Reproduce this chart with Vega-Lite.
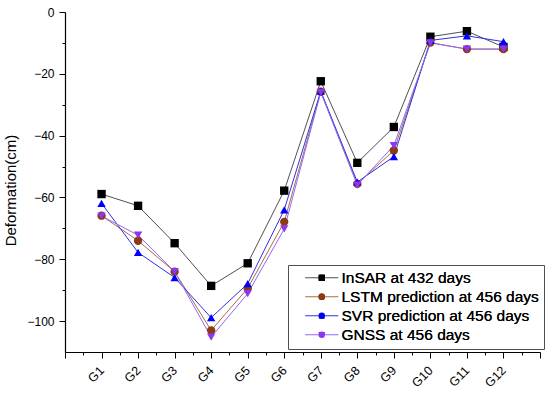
{
  "$schema": "https://vega.github.io/schema/vega-lite/v6.json",
  "width": 475,
  "height": 340,
  "autosize": "none",
  "padding": {"left": 65, "top": 12, "right": 10, "bottom": 44},
  "background": "white",
  "config": {
    "view": {"stroke": null},
    "font": "Liberation Sans",
    "axis": {"grid": false, "domainColor": "#000000", "tickColor": "#000000", "labelColor": "#000000", "titleColor": "#000000", "labelFont": "Liberation Sans", "titleFont": "Liberation Sans", "titleFontWeight": "normal"}
  },
  "data": {
    "values": [
      {"series": "InSAR at 432 days", "g": 1, "v": -58.9},
      {"series": "InSAR at 432 days", "g": 2, "v": -62.7},
      {"series": "InSAR at 432 days", "g": 3, "v": -74.8},
      {"series": "InSAR at 432 days", "g": 4, "v": -88.6},
      {"series": "InSAR at 432 days", "g": 5, "v": -81.3},
      {"series": "InSAR at 432 days", "g": 6, "v": -57.8},
      {"series": "InSAR at 432 days", "g": 7, "v": -22.4},
      {"series": "InSAR at 432 days", "g": 8, "v": -48.8},
      {"series": "InSAR at 432 days", "g": 9, "v": -37.2},
      {"series": "InSAR at 432 days", "g": 10, "v": -8.0},
      {"series": "InSAR at 432 days", "g": 11, "v": -6.2},
      {"series": "InSAR at 432 days", "g": 12, "v": -11.3},
      {"series": "LSTM prediction at 456 days", "g": 1, "v": -65.9},
      {"series": "LSTM prediction at 456 days", "g": 2, "v": -74.0},
      {"series": "LSTM prediction at 456 days", "g": 3, "v": -84.0},
      {"series": "LSTM prediction at 456 days", "g": 4, "v": -103.0},
      {"series": "LSTM prediction at 456 days", "g": 5, "v": -89.4},
      {"series": "LSTM prediction at 456 days", "g": 6, "v": -67.9},
      {"series": "LSTM prediction at 456 days", "g": 7, "v": -25.8},
      {"series": "LSTM prediction at 456 days", "g": 8, "v": -55.6},
      {"series": "LSTM prediction at 456 days", "g": 9, "v": -44.8},
      {"series": "LSTM prediction at 456 days", "g": 10, "v": -9.9},
      {"series": "LSTM prediction at 456 days", "g": 11, "v": -12.0},
      {"series": "LSTM prediction at 456 days", "g": 12, "v": -12.0},
      {"series": "SVR prediction at 456 days", "g": 1, "v": -61.9},
      {"series": "SVR prediction at 456 days", "g": 2, "v": -77.8},
      {"series": "SVR prediction at 456 days", "g": 3, "v": -85.9},
      {"series": "SVR prediction at 456 days", "g": 4, "v": -98.9},
      {"series": "SVR prediction at 456 days", "g": 5, "v": -87.9},
      {"series": "SVR prediction at 456 days", "g": 6, "v": -64.0},
      {"series": "SVR prediction at 456 days", "g": 7, "v": -25.6},
      {"series": "SVR prediction at 456 days", "g": 8, "v": -55.0},
      {"series": "SVR prediction at 456 days", "g": 9, "v": -46.8},
      {"series": "SVR prediction at 456 days", "g": 10, "v": -9.2},
      {"series": "SVR prediction at 456 days", "g": 11, "v": -7.7},
      {"series": "SVR prediction at 456 days", "g": 12, "v": -9.6},
      {"series": "GNSS at 456 days", "g": 1, "v": -66.0},
      {"series": "GNSS at 456 days", "g": 2, "v": -72.2},
      {"series": "GNSS at 456 days", "g": 3, "v": -84.0},
      {"series": "GNSS at 456 days", "g": 4, "v": -105.2},
      {"series": "GNSS at 456 days", "g": 5, "v": -91.1},
      {"series": "GNSS at 456 days", "g": 6, "v": -70.2},
      {"series": "GNSS at 456 days", "g": 7, "v": -26.0},
      {"series": "GNSS at 456 days", "g": 8, "v": -56.0},
      {"series": "GNSS at 456 days", "g": 9, "v": -43.2},
      {"series": "GNSS at 456 days", "g": 10, "v": -10.0},
      {"series": "GNSS at 456 days", "g": 11, "v": -12.0},
      {"series": "GNSS at 456 days", "g": 12, "v": -12.0}
    ]
  },
  "encoding": {
    "x": {
      "field": "g", "type": "quantitative",
      "scale": {"domain": [0, 13], "nice": false, "zero": false},
      "axis": {
        "title": null,
        "values": [0, 0.5, 1, 1.5, 2, 2.5, 3, 3.5, 4, 4.5, 5, 5.5, 6, 6.5, 7, 7.5, 8, 8.5, 9, 9.5, 10, 10.5, 11, 11.5, 12, 12.5, 13],
        "labelExpr": "(datum.value >= 1 && datum.value <= 12 && datum.value % 1 == 0) ? 'G' + datum.value : ''",
        "tickSize": {"condition": {"test": "datum.value % 1 == 0", "value": 6}, "value": 3},
        "labelAngle": -45, "labelAlign": "right", "labelBaseline": "middle",
        "labelPadding": 10, "labelFontSize": 12.5, "labelFlush": false, "labelOverlap": false,
        "domainWidth": 1.2
      }
    },
    "y": {
      "field": "v", "type": "quantitative",
      "scale": {"domain": [-110, 0], "nice": false, "zero": false},
      "axis": {
        "title": "Deformation(cm)", "titleFontSize": 15, "titlePadding": 8, "titleY": 178,
        "values": [-100, -90, -80, -70, -60, -50, -40, -30, -20, -10, 0],
        "labelExpr": "datum.value % 20 == 0 ? datum.label : ''",
        "tickSize": {"condition": {"test": "datum.value % 20 == 0", "value": 6}, "value": 3},
        "labelFontSize": 12, "labelPadding": 5, "domainWidth": 1.2
      }
    }
  },
  "layer": [
    {
      "mark": {"type": "line", "strokeWidth": 1},
      "encoding": {
        "color": {
          "field": "series", "type": "nominal",
          "scale": {"domain": ["InSAR at 432 days", "LSTM prediction at 456 days", "SVR prediction at 456 days", "GNSS at 456 days"], "range": ["#505050", "#A8703C", "#3030E0", "#9068FF"]},
          "legend": {
            "title": null, "orient": "none", "legendX": 223, "legendY": 253,
            "strokeColor": "#505050", "padding": 5,
            "labelFontSize": 15.5, "labelFont": "Liberation Sans", "labelColor": "#000000", "labelLimit": 400, "labelOpacity": 0,
            "symbolType": "M-5.12,0H5.12", "symbolSize": 42, "symbolStrokeWidth": 1,
            "symbolOffset": 21, "labelOffset": 12, "rowPadding": 2
          }
        },
        "detail": {"field": "series"}
      }
    },
    {
      "mark": {"type": "point", "filled": true, "opacity": 1, "size": 70},
      "encoding": {
        "color": {
          "field": "series", "type": "nominal",
          "scale": {"domain": ["InSAR at 432 days", "LSTM prediction at 456 days", "SVR prediction at 456 days", "GNSS at 456 days"], "range": ["#000000", "#8B3A12", "#0000FF", "#8A38F0"]},
          "legend": {
            "title": null, "orient": "none", "legendX": 223, "legendY": 253,
            "padding": 5,
            "labelFontSize": 15.5, "labelFont": "Liberation Sans", "labelColor": "#000000", "labelLimit": 400,
            "symbolSize": 42, "symbolStrokeWidth": 1,
            "symbolOffset": 21, "labelOffset": 12, "rowPadding": 2
          }
        },
        "shape": {
          "field": "series", "type": "nominal",
          "scale": {"domain": ["InSAR at 432 days", "LSTM prediction at 456 days", "SVR prediction at 456 days", "GNSS at 456 days"], "range": ["square", "circle", "triangle-up", "triangle-down"]},
          "legend": {
            "title": null, "orient": "none", "legendX": 223, "legendY": 253,
            "padding": 5,
            "labelFontSize": 15.5, "labelFont": "Liberation Sans", "labelColor": "#000000", "labelLimit": 400,
            "symbolSize": 42, "symbolStrokeWidth": 1,
            "symbolOffset": 21, "labelOffset": 12, "rowPadding": 2
          }
        }
      }
    }
  ],
  "resolve": {"scale": {"color": "independent"}}
}
